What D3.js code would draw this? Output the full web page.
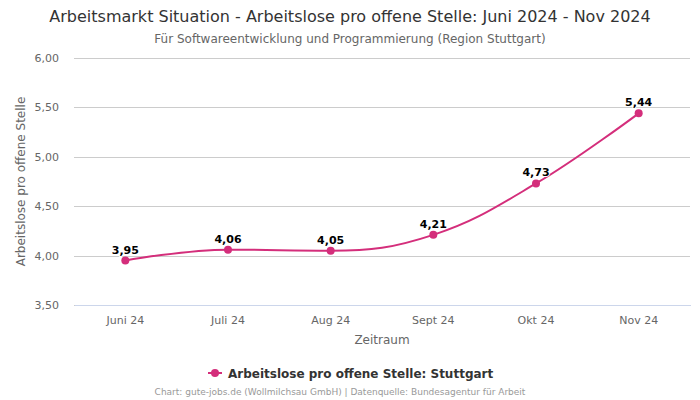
<!DOCTYPE html>
<html><head><meta charset="utf-8">
<script src="https://cdn.jsdelivr.net/npm/d3@7"></script>
<style>body{margin:0;background:#fff;font-family:"DejaVu Sans",sans-serif;}</style>
</head><body><svg id="c" width="700" height="400"></svg>
<script>
const categories = ["Juni 24","Juli 24","Aug 24","Sept 24","Okt 24","Nov 24"];
const values = [3.95,4.06,4.05,4.21,4.73,5.44];
const yTicks = [3.5,4.0,4.5,5.0,5.5,6.0];
const seriesName = "Arbeitslose pro offene Stelle: Stuttgart";
(function(){
const color = "#d42e7b";
const fmt = v => d3.format(".2f")(v).replace(".", ",");

const svg = d3.select("#c");
const pL = 74, pR = 690, pT = 58, pB = 305;
const x = d3.scaleBand().domain(categories).range([pL, pR]);
const y = d3.scaleLinear().domain([3.5, 6.0]).range([pB, pT]);

svg.append("text").attr("x", 350).attr("y", 22).attr("text-anchor","middle")
  .attr("font-size", 16).attr("fill", "#333").text("Arbeitsmarkt Situation - Arbeitslose pro offene Stelle: Juni 2024 - Nov 2024");
svg.append("text").attr("x", 350).attr("y", 43).attr("text-anchor","middle")
  .attr("font-size", 12).attr("fill", "#666").text("Für Softwareentwicklung und Programmierung (Region Stuttgart)");

const gy = svg.append("g").attr("transform", `translate(${pL},0)`)
  .call(d3.axisLeft(y).tickValues(yTicks).tickSize(-(pR-pL)).tickFormat(fmt).tickPadding(15));
gy.select(".domain").remove();
gy.selectAll(".tick line").attr("stroke", "#cccccc").attr("shape-rendering","crispEdges");
gy.selectAll(".tick text").attr("font-size", 11).attr("fill", "#666").attr("font-family","DejaVu Sans");

const gx = svg.append("g").attr("transform", `translate(0,${pB})`)
  .call(d3.axisBottom(x).tickSize(0).tickPadding(11));
gx.select(".domain").attr("stroke", "#ccd6eb").attr("shape-rendering","crispEdges");
gx.selectAll(".tick text").attr("font-size", 11).attr("fill", "#666").attr("font-family","DejaVu Sans");

svg.append("text").attr("x", (pL+pR)/2).attr("y", 344).attr("text-anchor","middle")
  .attr("font-size", 12).attr("fill", "#666").text("Zeitraum");
svg.append("text").attr("transform", `translate(25,${(pT+pB)/2}) rotate(-90)`).attr("text-anchor","middle")
  .attr("font-size", 12).attr("fill", "#666").text("Arbeitslose pro offene Stelle");

const pts = values.map((v,i) => ({px: x(categories[i]) + x.bandwidth()/2, py: y(v)}));
function splinePath(points){
  const s = 1.5, den = 2.5;
  let d = `M${points[0].px},${points[0].py}`;
  for (let i = 1; i < points.length; i++) {
    const p = points[i], last = points[i-1];
    let lcx = p.px, lcy = p.py;
    if (i < points.length - 1) {
      const next = points[i+1];
      lcx = (s*p.px + last.px)/den; lcy = (s*p.py + last.py)/den;
      let rcx = (s*p.px + next.px)/den, rcy = (s*p.py + next.py)/den;
      let corr = 0;
      if (rcx !== lcx) corr = ((rcy - lcy)*(rcx - p.px))/(rcx - lcx) + p.py - rcy;
      lcy += corr; rcy += corr;
      if (lcy > last.py && lcy > p.py) { lcy = Math.max(last.py, p.py); rcy = 2*p.py - lcy; }
      else if (lcy < last.py && lcy < p.py) { lcy = Math.min(last.py, p.py); rcy = 2*p.py - lcy; }
      if (rcy > next.py && rcy > p.py) { rcy = Math.max(next.py, p.py); lcy = 2*p.py - rcy; }
      else if (rcy < next.py && rcy < p.py) { rcy = Math.min(next.py, p.py); lcy = 2*p.py - rcy; }
      p.rcx = rcx; p.rcy = rcy;
    }
    const a = last.rcx !== undefined ? last.rcx : last.px;
    const b = last.rcy !== undefined ? last.rcy : last.py;
    d += `C${a},${b},${lcx},${lcy},${p.px},${p.py}`;
  }
  return d;
}
svg.append("path").attr("d", splinePath(pts)).attr("fill","none").attr("stroke", color).attr("stroke-width", 2);

svg.selectAll("circle.pt").data(values).enter().append("circle")
  .attr("cx", (d,i) => x(categories[i]) + x.bandwidth()/2).attr("cy", d => y(d)).attr("r", 4).attr("fill", color);

svg.selectAll("text.lbl").data(values).enter().append("text")
  .attr("x", (d,i) => x(categories[i]) + x.bandwidth()/2).attr("y", d => y(d) - 7)
  .attr("text-anchor","middle").attr("font-size", 11).attr("font-weight","bold").attr("fill","#000")
  .attr("stroke","#fff").attr("stroke-width",2).attr("stroke-linejoin","round").attr("paint-order","stroke")
  .text(d => fmt(d));

const lg = svg.append("g");
lg.append("line").attr("x1", 208).attr("x2", 222).attr("y1", 373).attr("y2", 373).attr("stroke", color).attr("stroke-width", 2);
lg.append("circle").attr("cx", 215).attr("cy", 373).attr("r", 4).attr("fill", color);
lg.append("text").attr("x", 228).attr("y", 377.5).attr("font-size", 12).attr("font-weight","bold").attr("fill","#333").text(seriesName);

svg.append("text").attr("x", 340).attr("y", 395).attr("text-anchor","middle")
  .attr("font-size", 9).attr("fill", "#999").text("Chart: gute-jobs.de (Wollmilchsau GmbH) | Datenquelle: Bundesagentur für Arbeit");
})();
</script></body></html>
